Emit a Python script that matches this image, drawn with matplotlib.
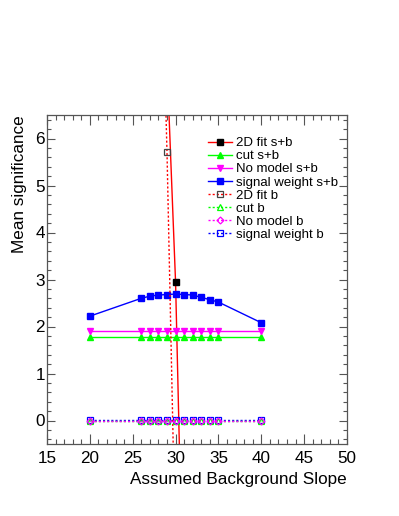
import matplotlib
matplotlib.use("Agg")
import matplotlib.pyplot as plt
from matplotlib.ticker import MultipleLocator

plt.rcParams['font.family'] = ['Liberation Sans', 'DejaVu Sans']

slopes = [20, 26, 27, 28, 29, 30, 31, 32, 33, 34, 35, 40]

# s+b results
fit2d_sb_x = [29, 30, 31]
fit2d_sb = [7.6, 2.94, -4.9]
cut_sb = [1.77] * 12
nomodel_sb = [1.90] * 12
sigw_sb = [2.22, 2.60, 2.645, 2.67, 2.68, 2.69, 2.68, 2.67, 2.62, 2.57, 2.52, 2.08]

# b-only results
fit2d_b_x = [28, 29, 30]
fit2d_b = [12.4, 5.71, -2.9]
cut_b = [0.0] * 12
nomodel_b = [-0.01] * 12
sigw_b = [0.01] * 12

RED = '#ff0000'
GREEN = '#00ff00'
MAG = '#ff00ff'
BLUE = '#0000ff'
DOT = (0, (1.5, 1.5))

fig = plt.figure(figsize=(3.99, 5.16), dpi=100)
ax = fig.add_axes([47/399, 72/516, 300/399, 329/516])

ms = 4.3
ax.plot(fit2d_sb_x, fit2d_sb, color=RED, lw=1.0, marker='s', ms=ms,
        mfc='black', mec='black', label='2D fit s+b')
ax.plot(slopes, cut_sb, color=GREEN, lw=1.0, marker='^', ms=ms,
        mfc=GREEN, mec=GREEN, label='cut s+b')
ax.plot(slopes, nomodel_sb, color=MAG, lw=1.0, marker='v', ms=ms,
        mfc=MAG, mec=MAG, label='No model s+b')
ax.plot(slopes, sigw_sb, color=BLUE, lw=1.0, marker='s', ms=ms,
        mfc=BLUE, mec=BLUE, label='signal weight s+b')
ax.plot(fit2d_b_x, fit2d_b, color=RED, lw=1.0, ls=DOT, marker='s', ms=ms,
        mfc='none', mec='#444444', mew=0.9, label='2D fit b')
ax.plot(slopes, sigw_b, color=BLUE, lw=1.0, ls=DOT, marker='s', ms=ms,
        mfc='none', mec=BLUE, mew=0.9, label='signal weight b')
ax.plot(slopes, cut_b, color=GREEN, lw=1.0, ls=DOT, marker='^', ms=ms,
        mfc='none', mec=GREEN, mew=0.9, label='cut b')
ax.plot(slopes, nomodel_b, color=MAG, lw=1.0, ls=DOT, marker='D', ms=3.5,
        mfc='none', mec=MAG, mew=0.9, label='No model b')

ax.set_xlim(15, 50)
ax.set_ylim(-0.5, 6.5)
ax.xaxis.set_major_locator(MultipleLocator(5))
ax.xaxis.set_minor_locator(MultipleLocator(1))
ax.yaxis.set_major_locator(MultipleLocator(1))
ax.yaxis.set_minor_locator(MultipleLocator(0.2))
ax.tick_params(axis='both', which='both', direction='in', top=True, right=True,
               labelsize=12.3, width=0.8, color='#555555')
ax.tick_params(axis='x', which='major', length=7.2, pad=5.0)
ax.tick_params(axis='x', which='minor', length=3.6)
ax.tick_params(axis='y', which='major', length=5.8, pad=1.5)
ax.tick_params(axis='y', which='minor', length=2.9)
for s in ax.spines.values():
    s.set_color('#555555')
    s.set_linewidth(0.9)

ax.set_xlabel('Assumed Background Slope', fontsize=12.3, loc='right', labelpad=4.5)
ax.set_ylabel('Mean significance', fontsize=12.3, loc='top', labelpad=6)

h, l = ax.get_legend_handles_labels()
order = ['2D fit s+b', 'cut s+b', 'No model s+b', 'signal weight s+b',
         '2D fit b', 'cut b', 'No model b', 'signal weight b']
hd = dict(zip(l, h))
ax.legend([hd[k] for k in order], order, loc='upper left',
          bbox_to_anchor=((208 - 47) / 300, (444 - 137) / 329),
          frameon=False, fontsize=9.5, numpoints=1, handlelength=1.82,
          handletextpad=0.3, labelspacing=0.065, borderpad=0, borderaxespad=0)

fig.savefig('out.png', dpi=100)
